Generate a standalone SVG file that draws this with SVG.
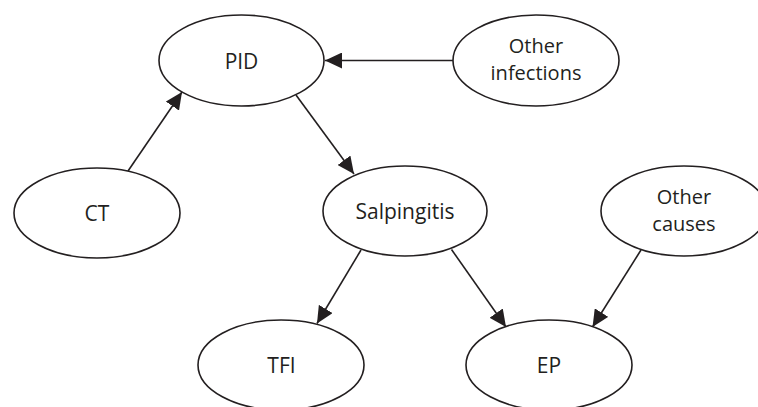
<svg xmlns="http://www.w3.org/2000/svg" width="758" height="407" viewBox="0 0 758 407">
<defs>
<style>
.node ellipse{fill:#fff;stroke:#231f20;stroke-width:1.6}
.node text{font-family:"Open Sans","Liberation Sans",sans-serif;font-size:21px;fill:#231f20;text-anchor:middle}
.node text.two{font-size:20px}
#connectors line{stroke:#231f20;stroke-width:1.6;fill:none}
</style>
<marker id="arr" viewBox="0 0 17 16" refX="17" refY="8" markerWidth="17" markerHeight="16" markerUnits="userSpaceOnUse" orient="auto">
<path d="M0,0 L17,8 L0,16 Z" fill="#231f20"/>
</marker>
</defs>
<rect width="758" height="407" fill="#fff"/>
<g id="connectors">
<line x1="453" y1="60.5" x2="325" y2="60.5" marker-end="url(#arr)"/>
<line x1="128" y1="171" x2="182" y2="92" marker-end="url(#arr)"/>
<line x1="296" y1="95" x2="354" y2="174" marker-end="url(#arr)"/>
<line x1="361" y1="250" x2="317" y2="323.5" marker-end="url(#arr)"/>
<line x1="451.5" y1="249.5" x2="506" y2="327" marker-end="url(#arr)"/>
<line x1="641" y1="250" x2="592.5" y2="327" marker-end="url(#arr)"/>
</g>
<g id="PID" class="node"><ellipse cx="241.5" cy="60.5" rx="82.5" ry="45.5"/><text x="241.5" y="68.5">PID</text></g>
<g id="OtherInfections" class="node"><ellipse cx="536" cy="60.5" rx="83" ry="45.5"/><text class="two" x="536" y="52.5">Other</text><text class="two" x="536" y="80">infections</text></g>
<g id="CT" class="node"><ellipse cx="97" cy="213" rx="83" ry="45"/><text x="97" y="221">CT</text></g>
<g id="Salpingitis" class="node"><ellipse cx="405" cy="211" rx="82" ry="45"/><text x="405" y="219">Salpingitis</text></g>
<g id="OtherCauses" class="node"><ellipse cx="684" cy="211" rx="83" ry="45"/><text class="two" x="684" y="203.5">Other</text><text class="two" x="684" y="231">causes</text></g>
<g id="TFI" class="node"><ellipse cx="281" cy="365" rx="83" ry="45"/><text x="281.5" y="373">TFI</text></g>
<g id="EP" class="node"><ellipse cx="549" cy="365" rx="83" ry="45"/><text x="549" y="373">EP</text></g>
</svg>
